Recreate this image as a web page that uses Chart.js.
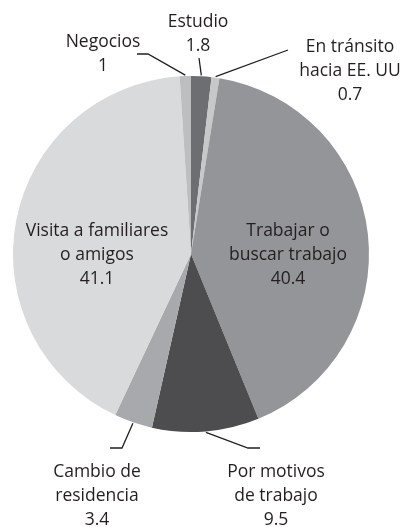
<!DOCTYPE html>
<html>
<head>
<meta charset="utf-8">
<script src="https://cdn.jsdelivr.net/npm/chart.js@4.4.0/dist/chart.umd.min.js"></script>
<style>
  html, body { margin: 0; padding: 0; background: #fff; }
  #wrap { width: 405px; height: 527px; }
</style>
</head>
<body>
<div id="wrap"><canvas id="pie" width="405" height="527"></canvas></div>
<script>
"use strict";

// Data
var categories = ["Estudio", "En tránsito hacia EE. UU", "Trabajar o buscar trabajo", "Por motivos de trabajo", "Cambio de residencia", "Visita a familiares o amigos", "Negocios"];
var values = [1.8, 0.7, 40.4, 9.5, 3.4, 41.1, 1];
var labelLines = [["Estudio"], ["En tránsito", "hacia EE. UU"], ["Trabajar o", "buscar trabajo"], ["Por motivos", "de trabajo"], ["Cambio de", "residencia"], ["Visita a familiares", "o amigos"], ["Negocios"]];
var colors = ["#6d6e71", "#c7c8ca", "#939598", "#4d4d4f", "#a7a9ac", "#d9dadb", "#bcbec0"];

// where each label goes (text centre x, first baseline y, leader elbow points)
var labelLayout = [
    { x: 198, y: 27, elbow: [[199, 58]] },
    { x: 350, y: 52, elbow: [[288, 50]] },
    { x: 288, y: 236, inside: true },
    { x: 276, y: 477, elbow: [[248, 448], [260, 448]] },
    { x: 97, y: 477, elbow: [[122, 448], [110, 448]] },
    { x: 97, y: 236, inside: true },
    { x: 103, y: 47, elbow: [[148, 54], [137, 54]] }
];

var FONT = "17.5px 'Open Sans', sans-serif";
var LINE_H = 24;

// Labels and leader lines
var pieLabels = {
    id: "pieLabels",
    afterDatasetsDraw: function (chart) {
        var ctx = chart.ctx;
        var meta = chart.getDatasetMeta(0);
        ctx.save();
        ctx.font = FONT;
        ctx.fillStyle = "#231f20";
        ctx.strokeStyle = "#231f20";
        ctx.lineWidth = 1.3;
        ctx.textAlign = "center";
        ctx.textBaseline = "alphabetic";
        meta.data.forEach(function (arc, i) {
            var p = arc.getProps(["x", "y", "startAngle", "endAngle", "outerRadius"], true);
            var lay = labelLayout[i];
            if (!lay.inside) {
                var mid = (p.startAngle + p.endAngle) / 2;
                var r = p.outerRadius + 1;
                ctx.beginPath();
                ctx.moveTo(p.x + Math.cos(mid) * r, p.y + Math.sin(mid) * r);
                lay.elbow.forEach(function (pt) { ctx.lineTo(pt[0], pt[1]); });
                ctx.stroke();
            }
            var lines = labelLines[i].concat([String(values[i])]);
            lines.forEach(function (t, k) {
                ctx.fillText(t, lay.x, lay.y + k * LINE_H);
            });
        });
        ctx.restore();
    }
};

var ctx1 = document.getElementById("pie").getContext("2d");
var myChart1 = new Chart(ctx1, {
    type: "pie",
    data: {
        labels: categories,
        datasets: [{
            data: values,
            backgroundColor: colors,
            borderWidth: 0
        }]
    },
    options: {
        responsive: false,
        animation: false,
        layout: { padding: { left: 13, right: 36, top: 76, bottom: 95 } },
        plugins: {
            legend: { display: false },
            tooltip: { enabled: false }
        }
    },
    plugins: [pieLabels]
});
</script>
</body>
</html>
